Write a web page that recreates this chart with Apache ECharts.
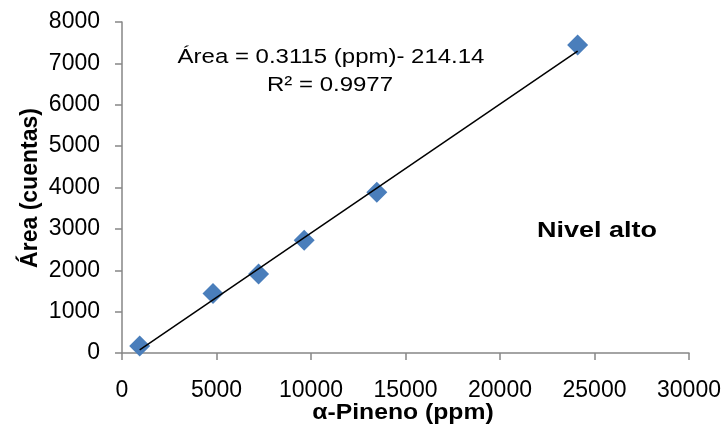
<!DOCTYPE html>
<html>
<head>
<meta charset="utf-8">
<script src="https://cdn.jsdelivr.net/npm/echarts@6/dist/echarts.min.js"></script>
<style>
  html, body { margin: 0; padding: 0; background: #ffffff; }
  #chart { width: 725px; height: 432px; }
</style>
</head>
<body>
<div id="chart"></div>
<script>
// Calibration points: alpha-pinene concentration vs. peak area
const ppm  = [936, 4815, 7225, 9641, 13483, 24107];
const area = [169, 1437, 1911, 2726, 3887, 7443];

// Linear fit reported on the chart
const slope = 0.3115;
const intercept = -214.14;
const r2 = 0.9977;

const xTicks = { min: 0, max: 30000, step: 5000 };
const yTicks = { min: 0, max: 8000, step: 1000 };

const points = ppm.map((x, i) => [x, area[i]]);
const xLo = Math.min(...ppm), xHi = Math.max(...ppm);
const fitLine = [[xLo, slope * xLo + intercept], [xHi, slope * xHi + intercept]];

const FONT = '"Liberation Sans", Arial, sans-serif';
const axisGray = '#868686';
const plain = v => String(v);

const chart = echarts.init(document.getElementById('chart'), null, { renderer: 'canvas' });

chart.setOption({
  animation: false,
  backgroundColor: '#ffffff',
  grid: { left: 122, right: 36, top: 22, bottom: 79, containLabel: false },
  xAxis: {
    type: 'value',
    min: xTicks.min, max: xTicks.max, interval: xTicks.step,
    splitLine: { show: false },
    axisLine: { show: true, onZero: false, lineStyle: { color: axisGray, width: 1.5 } },
    axisTick: { show: true, inside: false, length: 7, lineStyle: { color: axisGray, width: 1.5 } },
    axisLabel: { color: '#000', fontFamily: FONT, fontSize: 23, margin: 26, formatter: plain }
  },
  yAxis: {
    type: 'value',
    min: yTicks.min, max: yTicks.max, interval: yTicks.step,
    splitLine: { show: false },
    axisLine: { show: true, onZero: false, lineStyle: { color: axisGray, width: 1.5 } },
    axisTick: { show: true, inside: false, length: 7, lineStyle: { color: axisGray, width: 1.5 } },
    axisLabel: { color: '#000', fontFamily: FONT, fontSize: 23, margin: 22, formatter: plain }
  },
  series: [
    {
      type: 'scatter',
      data: points,
      symbol: 'diamond',
      symbolSize: 21,
      itemStyle: { color: '#4A7EBB', opacity: 1 },
      z: 2
    },
    {
      type: 'line',
      data: fitLine,
      showSymbol: false,
      symbol: 'none',
      lineStyle: { color: '#000', width: 1.5 },
      z: 3
    }
  ],
  graphic: [
    {
      type: 'text', x: 331, y: 57, scaleX: 1.17,
      style: {
        text: 'Área = ' + slope + ' (ppm)- ' + Math.abs(intercept),
        font: '20.5px ' + FONT, fill: '#000',
        textAlign: 'center', textVerticalAlign: 'middle'
      }
    },
    {
      type: 'text', x: 330, y: 85, scaleX: 1.17,
      style: {
        text: 'R² = ' + r2,
        font: '20.5px ' + FONT, fill: '#000',
        textAlign: 'center', textVerticalAlign: 'middle'
      }
    },
    {
      type: 'text', x: 597, y: 231, scaleX: 1.2,
      style: {
        text: 'Nivel alto',
        font: 'bold 22.5px ' + FONT, fill: '#000',
        textAlign: 'center', textVerticalAlign: 'middle'
      }
    },
    {
      type: 'text', x: 403, y: 413, scaleX: 1.15,
      style: {
        text: 'α-Pineno (ppm)',
        font: 'bold 21.5px ' + FONT, fill: '#000',
        textAlign: 'center', textVerticalAlign: 'middle'
      }
    },
    {
      type: 'text', x: 31, y: 188, rotation: Math.PI / 2,
      style: {
        text: 'Área (cuentas)',
        font: 'bold 23px ' + FONT, fill: '#000',
        textAlign: 'center', textVerticalAlign: 'middle'
      }
    }
  ]
});
</script>
</body>
</html>
